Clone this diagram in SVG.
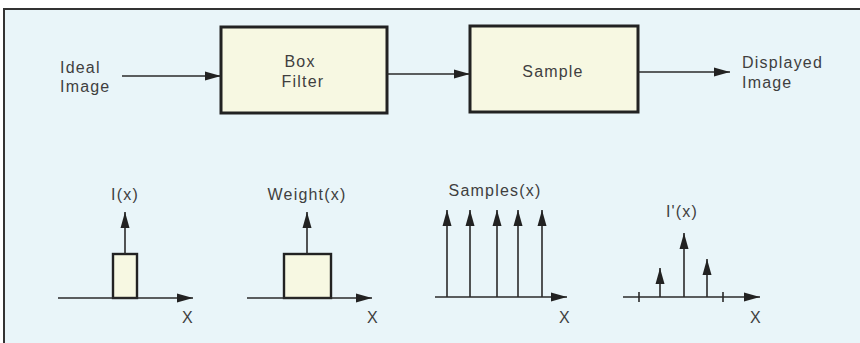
<svg xmlns="http://www.w3.org/2000/svg" width="860" height="343" viewBox="0 0 860 343">
<style>
text{font-family:"Liberation Sans",Arial,sans-serif;fill:#3f3f3f;font-size:16px;letter-spacing:1.2px}
.mid{text-anchor:middle}
.box{fill:#f7f8e2;stroke:#222;stroke-width:3}
.ln{stroke:#2a2a2a;stroke-width:1.6;fill:none}
.pb{fill:#f7f8e2;stroke:#222;stroke-width:2.4}
</style>
<defs>
<marker id="av" viewBox="0 0 16 10" refX="16" refY="5" markerWidth="16" markerHeight="10" markerUnits="userSpaceOnUse" orient="auto">
<path d="M0,0.5 L16,5 L0,9.5 Z" fill="#222"/>
</marker>
</defs>
<rect x="0" y="0" width="860" height="343" fill="#ffffff"/>
<rect x="4" y="9" width="870" height="345" fill="#e9f5f9" stroke="#333" stroke-width="2"/>
<g id="ideal"><text x="60" y="73">Ideal</text><text x="60" y="92">Image</text></g>
<g id="boxfilter"><rect class="box" x="221" y="27" width="166" height="86"/><text class="mid" x="300" y="67">Box</text><text class="mid" x="303" y="87">Filter</text></g>
<g id="sample"><rect class="box" x="470" y="26" width="168" height="86"/><text class="mid" x="553" y="77">Sample</text></g>
<g id="displayed"><text x="742" y="68">Displayed</text><text x="742" y="88">Image</text></g>
<g id="connectors">
<line class="ln" x1="122" y1="76" x2="221" y2="76" marker-end="url(#av)"/>
<line class="ln" x1="387" y1="74" x2="470" y2="74" marker-end="url(#av)"/>
<line class="ln" x1="638" y1="72" x2="730" y2="72" marker-end="url(#av)"/>
</g>
<g id="plot-ix">
<rect class="pb" x="113" y="254" width="24" height="44"/>
<line class="ln" x1="58" y1="298" x2="193" y2="298" marker-end="url(#av)"/>
<line class="ln" x1="125" y1="254" x2="125" y2="212" marker-end="url(#av)"/>
<text class="mid" x="125" y="200">I(x)</text>
<text class="mid" x="188" y="323">X</text>
</g>
<g id="plot-weight">
<rect class="pb" x="284" y="254" width="47" height="44"/>
<line class="ln" x1="247" y1="298" x2="372" y2="298" marker-end="url(#av)"/>
<line class="ln" x1="307" y1="254" x2="307" y2="212" marker-end="url(#av)"/>
<text class="mid" x="307" y="200">Weight(x)</text>
<text class="mid" x="373" y="323">X</text>
</g>
<g id="plot-samples">
<line class="ln" x1="435" y1="297" x2="567" y2="297" marker-end="url(#av)"/>
<line class="ln" x1="447" y1="297" x2="447" y2="210" marker-end="url(#av)"/>
<line class="ln" x1="470" y1="297" x2="470" y2="210" marker-end="url(#av)"/>
<line class="ln" x1="497" y1="297" x2="497" y2="210" marker-end="url(#av)"/>
<line class="ln" x1="518" y1="297" x2="518" y2="210" marker-end="url(#av)"/>
<line class="ln" x1="542" y1="297" x2="542" y2="210" marker-end="url(#av)"/>
<text class="mid" x="495" y="196">Samples(x)</text>
<text class="mid" x="565" y="323">X</text>
</g>
<g id="plot-iprime">
<line class="ln" x1="623" y1="297" x2="760" y2="297" marker-end="url(#av)"/>
<line class="ln" x1="639" y1="292" x2="639" y2="302"/>
<line class="ln" x1="723" y1="292" x2="723" y2="302"/>
<line class="ln" x1="660" y1="297" x2="660" y2="268" marker-end="url(#av)"/>
<line class="ln" x1="684" y1="297" x2="684" y2="233" marker-end="url(#av)"/>
<line class="ln" x1="707" y1="297" x2="707" y2="259" marker-end="url(#av)"/>
<text class="mid" x="682" y="217">I'(x)</text>
<text class="mid" x="756" y="323">X</text>
</g>
</svg>
